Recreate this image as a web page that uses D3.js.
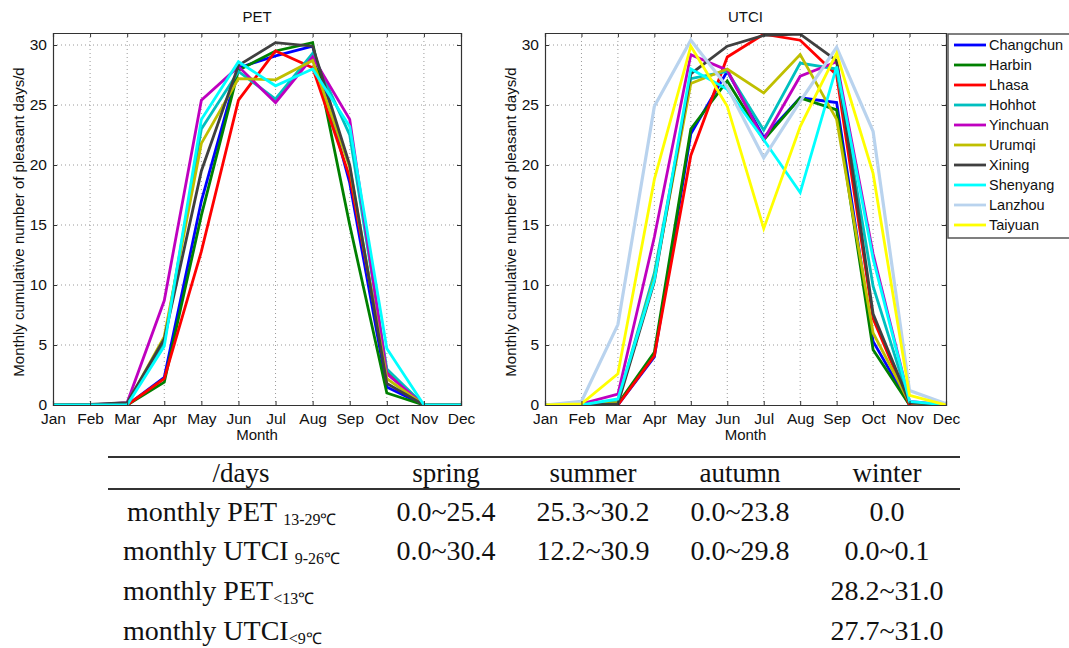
<!DOCTYPE html>
<html>
<head>
<meta charset="utf-8">
<script src="https://cdn.jsdelivr.net/npm/d3@7"></script>
<style>
    body { margin: 0; background: #fff; }
    svg text { font-family: "Liberation Sans", Arial, sans-serif; }
    .grid line { stroke: #9a9a9a; stroke-width: 1; stroke-dasharray: 1,3; }
    .tbl text { font-family: "Liberation Serif", "Times New Roman", serif; fill: #111; }
</style>
</head>
<body>
<div id="chart"></div>
<script>

// ---- data ----
const months = ["Jan","Feb","Mar","Apr","May","Jun","Jul","Aug","Sep","Oct","Nov","Dec"];
const cities = ["Changchun","Harbin","Lhasa","Hohhot","Yinchuan","Urumqi","Xining","Shenyang","Lanzhou","Taiyuan"];
const cityColors = ["#0000ff","#008000","#ff0000","#00bfbf","#bf00bf","#bfbf00","#404040","#00ffff","#b9d3ee","#ffff00"];
const yTicks = [0,5,10,15,20,25,30];

// PET panel only shows the first 8 cities
const petValues = [
    [0,0,0,2.3,17.0,28.1,29.1,29.9,18.5,1.5,0,0],
    [0,0,0,1.9,15.8,27.9,29.5,30.2,15.0,1.0,0,0],
    [0,0,0,2.2,12.8,25.4,29.5,28.1,19.0,2.8,0,0],
    [0,0,0.1,5.2,23.0,27.8,25.5,29.3,22.5,3.0,0,0],
    [0,0,0.2,8.7,25.4,28.2,25.2,29.0,23.8,2.6,0,0],
    [0,0,0.1,5.7,21.8,27.2,27.1,28.7,19.8,2.2,0,0],
    [0,0.05,0.2,5.5,19.5,28.3,30.2,29.9,20.0,1.8,0,0],
    [0,0,0,4.9,23.8,28.6,26.6,28.0,23.2,4.7,0,0]
];

const utciValues = [
    [0,0,0,4.0,22.6,27.8,22.3,25.6,25.2,5.3,0,0],
    [0,0,0.1,4.4,23.0,27.0,22.1,25.6,24.6,4.6,0,0],
    [0,0,0,4.1,20.8,29.0,30.9,30.4,27.5,7.2,0,0],
    [0,0,0.3,11.0,27.2,27.8,22.9,28.5,28.0,9.9,0.2,0],
    [0,0.1,0.9,14.0,29.2,27.9,22.1,27.4,28.6,12.6,0.3,0],
    [0,0,0.2,10.6,26.8,28.0,26.0,29.2,23.8,6.0,0.2,0],
    [0,0,0.1,10.3,27.6,29.9,30.8,30.9,28.7,7.6,0.2,0],
    [0,0,0.5,10.4,28.0,26.3,22.1,17.7,28.2,12.2,0.3,0],
    [0,0.3,6.7,24.9,30.4,26.5,20.6,25.3,29.8,22.8,1.2,0.1],
    [0,0.1,2.6,18.8,29.9,24.9,14.7,23.2,29.3,19.3,0.8,0]
];

// table below the charts
const tableHeader = ["/days","spring","summer","autumn","winter"];
const rowNames = ["monthly PET","monthly UTCI","monthly PET","monthly UTCI"];
const rowSubs = ["13-29\u2103","9-26\u2103","<13\u2103","<9\u2103"];
const tableValues = [
    ["0.0~25.4","25.3~30.2","0.0~23.8","0.0"],
    ["0.0~30.4","12.2~30.9","0.0~29.8","0.0~0.1"],
    ["","","","28.2~31.0"],
    ["","","","27.7~31.0"]
];

// ---- drawing ----
const W = 1069, H = 648;
const svg = d3.select("#chart").append("svg")
    .attr("width", W)
    .attr("height", H);

svg.append("rect").attr("width", W).attr("height", H).attr("fill", "#fff");

function drawPanel(opts) {
    let g = svg.append("g");
    let x = d3.scalePoint().domain(months).range([opts.left, opts.right]);
    let y = d3.scaleLinear().domain([0, 31]).range([opts.bottom, opts.top]);

    // dotted grid
    let grid = g.append("g").attr("class", "grid");
    grid.selectAll(".gx").data(months.slice(1, -1)).enter().append("line")
        .attr("x1", d => x(d)).attr("x2", d => x(d))
        .attr("y1", opts.top).attr("y2", opts.bottom);
    grid.selectAll(".gy").data(yTicks.slice(1)).enter().append("line")
        .attr("x1", opts.left).attr("x2", opts.right)
        .attr("y1", d => y(d)).attr("y2", d => y(d));

    // clip so lines stay inside the axes box
    let clipId = "clip-" + opts.name;
    svg.append("defs").append("clipPath").attr("id", clipId)
        .append("rect")
        .attr("x", opts.left).attr("y", opts.top)
        .attr("width", opts.right - opts.left).attr("height", opts.bottom - opts.top);

    let line = d3.line()
        .x((d, i) => x(months[i]))
        .y(d => y(d));

    g.append("g").attr("clip-path", "url(#" + clipId + ")")
        .selectAll("path").data(opts.values).enter().append("path")
        .attr("d", d => line(d))
        .attr("fill", "none")
        .attr("stroke", (d, i) => cityColors[i])
        .attr("stroke-width", (d, i) => cities[i] === "Lanzhou" ? 3.2 : 2.8)
        .attr("stroke-linejoin", "miter");

    // axes, ticks pointing inwards like matlab
    let xAxis = d3.axisBottom(x).tickSize(-4).tickPadding(8);
    let xTop = d3.axisTop(x).tickSize(-4).tickFormat("");
    let yAxis = d3.axisLeft(y).tickValues(yTicks).tickSize(-4).tickPadding(6);
    let yRight = d3.axisRight(y).tickValues(yTicks).tickSize(-4).tickFormat("");

    let ax = [
        g.append("g").attr("transform", "translate(0," + opts.bottom + ")").call(xAxis),
        g.append("g").attr("transform", "translate(0," + opts.top + ")").call(xTop),
        g.append("g").attr("transform", "translate(" + opts.left + ",0)").call(yAxis),
        g.append("g").attr("transform", "translate(" + opts.right + ",0)").call(yRight)
    ];
    ax.forEach(a => {
        a.select(".domain").attr("stroke", "#333").attr("stroke-width", 1.2);
        a.selectAll(".tick line").attr("stroke", "#333");
        a.selectAll("text").attr("font-size", 15.5).attr("fill", "#111")
            .attr("font-family", "Liberation Sans, Arial, sans-serif");
    });

    // titles
    g.append("text")
        .attr("x", (opts.left + opts.right) / 2).attr("y", 22)
        .attr("text-anchor", "middle").attr("font-size", 15).attr("fill", "#111")
        .text(opts.name);
    g.append("text")
        .attr("x", (opts.left + opts.right) / 2).attr("y", 440)
        .attr("text-anchor", "middle").attr("font-size", 15).attr("fill", "#111")
        .text("Month");
    g.append("text")
        .attr("transform", "translate(" + opts.labelX + "," + ((opts.top + opts.bottom) / 2 + 3) + ") rotate(-90)")
        .attr("text-anchor", "middle").attr("font-size", 15).attr("fill", "#111")
        .text("Monthly cumulative number of pleasant days/d");
}

drawPanel({name: "PET", values: petValues, left: 53, right: 461, top: 33, bottom: 405, labelX: 24});
drawPanel({name: "UTCI", values: utciValues, left: 545, right: 946, top: 33, bottom: 405, labelX: 516});

// legend (partly outside the window on the right, as in the original)
let legend = svg.append("g");
legend.append("rect")
    .attr("x", 948).attr("y", 34)
    .attr("width", 140).attr("height", 204)
    .attr("fill", "#fff").attr("stroke", "#555").attr("stroke-width", 1.5);

let items = legend.selectAll(".item").data(cities).enter().append("g")
    .attr("transform", (d, i) => "translate(0," + (45 + i * 20) + ")");
items.append("line")
    .attr("x1", 954).attr("x2", 986)
    .attr("stroke", (d, i) => cityColors[i])
    .attr("stroke-width", 2.8);
items.append("text")
    .attr("x", 989).attr("dy", "0.35em")
    .attr("font-size", 14.5).attr("fill", "#111")
    .text(d => d);

// ---- table ----
const colX = [241, 446, 593, 740, 887];
const rowY = [521, 560, 600, 640];
const rowNameX = [127, 123, 123, 123];
let tbl = svg.append("g").attr("class", "tbl");

tbl.append("line").attr("x1", 108).attr("x2", 960).attr("y1", 457).attr("y2", 457)
    .attr("stroke", "#333").attr("stroke-width", 2);
tbl.append("line").attr("x1", 108).attr("x2", 960).attr("y1", 489).attr("y2", 489)
    .attr("stroke", "#333").attr("stroke-width", 2);

tbl.selectAll(".hd").data(tableHeader).enter().append("text")
    .attr("x", (d, i) => colX[i]).attr("y", 482)
    .attr("text-anchor", "middle").attr("font-size", 27)
    .text(d => d);

let rowLabels = tbl.selectAll(".rl").data(rowNames).enter().append("text")
    .attr("x", (d, i) => rowNameX[i]).attr("y", (d, i) => rowY[i])
    .attr("font-size", 28);
rowLabels.append("tspan").text(d => d);
rowLabels.append("tspan")
    .attr("font-size", 16).attr("dy", 4)
    .attr("dx", (d, i) => i < 2 ? 6 : 0)
    .text((d, i) => rowSubs[i]);

tableValues.forEach((row, r) => {
    tbl.selectAll(".v" + r).data(row).enter().append("text")
        .attr("x", (d, i) => colX[i + 1]).attr("y", rowY[r])
        .attr("text-anchor", "middle").attr("font-size", 28)
        .text(d => d);
});

</script>
</body>
</html>
